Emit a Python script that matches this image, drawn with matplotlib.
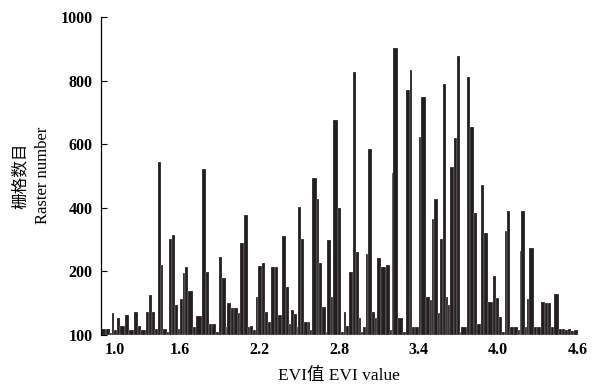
import numpy as np
import matplotlib
matplotlib.use('Agg')
import matplotlib.pyplot as plt
import matplotlib.transforms as mtransforms

# left edge of each bar (EVI value) and its raster count
evi_left = [1.005, 1.043, 1.068, 1.083, 1.100, 1.121, 1.146, 1.186, 1.211, 1.251,
            1.282, 1.302, 1.340, 1.362, 1.383, 1.408, 1.428, 1.453, 1.473, 1.498,
            1.513, 1.536, 1.558, 1.579, 1.594, 1.619, 1.639, 1.659, 1.697, 1.722,
            1.760, 1.792, 1.817, 1.843, 1.868, 1.893, 1.918, 1.943, 1.956, 1.986,
            2.006, 2.032, 2.049, 2.079, 2.112, 2.125, 2.149, 2.170, 2.187, 2.213,
            2.238, 2.263, 2.288, 2.313, 2.338, 2.364, 2.396, 2.419, 2.434, 2.459,
            2.477, 2.489, 2.509, 2.534, 2.560, 2.577, 2.595, 2.628, 2.648, 2.666,
            2.696, 2.708, 2.734, 2.753, 2.791, 2.811, 2.836, 2.854, 2.872, 2.900,
            2.925, 2.949, 2.967, 2.980, 3.000, 3.013, 3.048, 3.068, 3.081, 3.118,
            3.151, 3.181, 3.194, 3.206, 3.244, 3.281, 3.302, 3.332, 3.347, 3.370,
            3.402, 3.420, 3.458, 3.483, 3.496, 3.513, 3.546, 3.558, 3.579, 3.609,
            3.621, 3.639, 3.664, 3.685, 3.709, 3.722, 3.767, 3.785, 3.815, 3.843,
            3.873, 3.893, 3.923, 3.961, 3.986, 4.004, 4.026, 4.049, 4.069, 4.092,
            4.117, 4.145, 4.162, 4.175, 4.200, 4.217, 4.232, 4.266, 4.291, 4.321,
            4.351, 4.376, 4.396, 4.419, 4.457, 4.479, 4.502, 4.525, 4.547, 4.570]
evi_end = 4.600
counts = [19, 19, 5, 69, 15, 53, 30, 63, 15, 72,
          28, 15, 72, 126, 72, 20, 544, 220, 20, 10,
          302, 314, 94, 20, 113, 195, 214, 139, 25, 60,
          522, 198, 35, 35, 10, 245, 179, 25, 100, 85,
          85, 69, 289, 377, 25, 30, 15, 120, 217, 226,
          72, 40, 214, 214, 63, 311, 151, 35, 79, 66,
          25, 403, 302, 40, 42, 15, 494, 428, 226, 88,
          10, 299, 120, 676, 400, 10, 72, 30, 198, 827,
          261, 53, 10, 25, 255, 585, 72, 53, 242, 214,
          220, 15, 509, 903, 53, 10, 770, 833, 25, 25,
          623, 749, 121, 110, 365, 428, 69, 302, 789, 121,
          94, 528, 620, 877, 10, 25, 811, 654, 384, 35,
          472, 321, 104, 186, 116, 57, 10, 327, 390, 25,
          25, 15, 264, 390, 25, 113, 274, 25, 25, 104,
          100, 100, 25, 129, 20, 18, 15, 20, 12, 15]

y_ticks = [0, 200, 400, 600, 800, 1000]
y_ticklabels = ['100', '200', '400', '600', '800', '1000']
x_ticks = [1.0, 1.6, 2.2, 2.8, 3.4, 4.0, 4.6]

serif_cjk = ['Liberation Serif', 'Noto Sans CJK SC']

edges = np.array(evi_left + [evi_end])
widths = np.diff(edges)

fig = plt.figure(figsize=(6, 3.86), dpi=100)
ax = fig.add_axes([0.168, 0.132, 0.795, 0.824])

ax.bar(evi_left, counts, width=widths, align='edge', color='#231f20',
       edgecolor='white', linewidth=0.15)

ax.set_xlim(1.0, 4.6)
ax.set_ylim(0, 1000)
ax.set_yticks(y_ticks)
ax.set_yticklabels(y_ticklabels, family='Liberation Serif', fontsize=11.5, fontweight='bold')
ax.set_xticks(x_ticks)
ax.set_xticklabels(['%.1f' % v for v in x_ticks], family='Liberation Serif',
                   fontsize=11.5, fontweight='bold')

ax.spines['top'].set_visible(False)
ax.spines['right'].set_visible(False)
ax.spines['bottom'].set_visible(False)
ax.spines['left'].set_linewidth(0.9)
ax.tick_params(axis='y', direction='in', length=4, width=0.8, pad=6)
ax.tick_params(axis='x', length=0, pad=5)

# nudge the first x label clear of the "100" label
lab = ax.get_xticklabels()[0]
lab.set_transform(lab.get_transform() + mtransforms.ScaledTranslation(0.14, 0, fig.dpi_scale_trans))

ax.set_xlabel('EVI值 EVI value', family=serif_cjk, fontsize=12.5, labelpad=7)
fig.text(0.035, 0.545, '栅格数目', rotation=90, family=serif_cjk, fontsize=12,
         ha='center', va='center')
fig.text(0.072, 0.545, 'Raster number', rotation=90, family=serif_cjk, fontsize=12,
         ha='center', va='center')

fig.savefig('out.png', dpi=100)
